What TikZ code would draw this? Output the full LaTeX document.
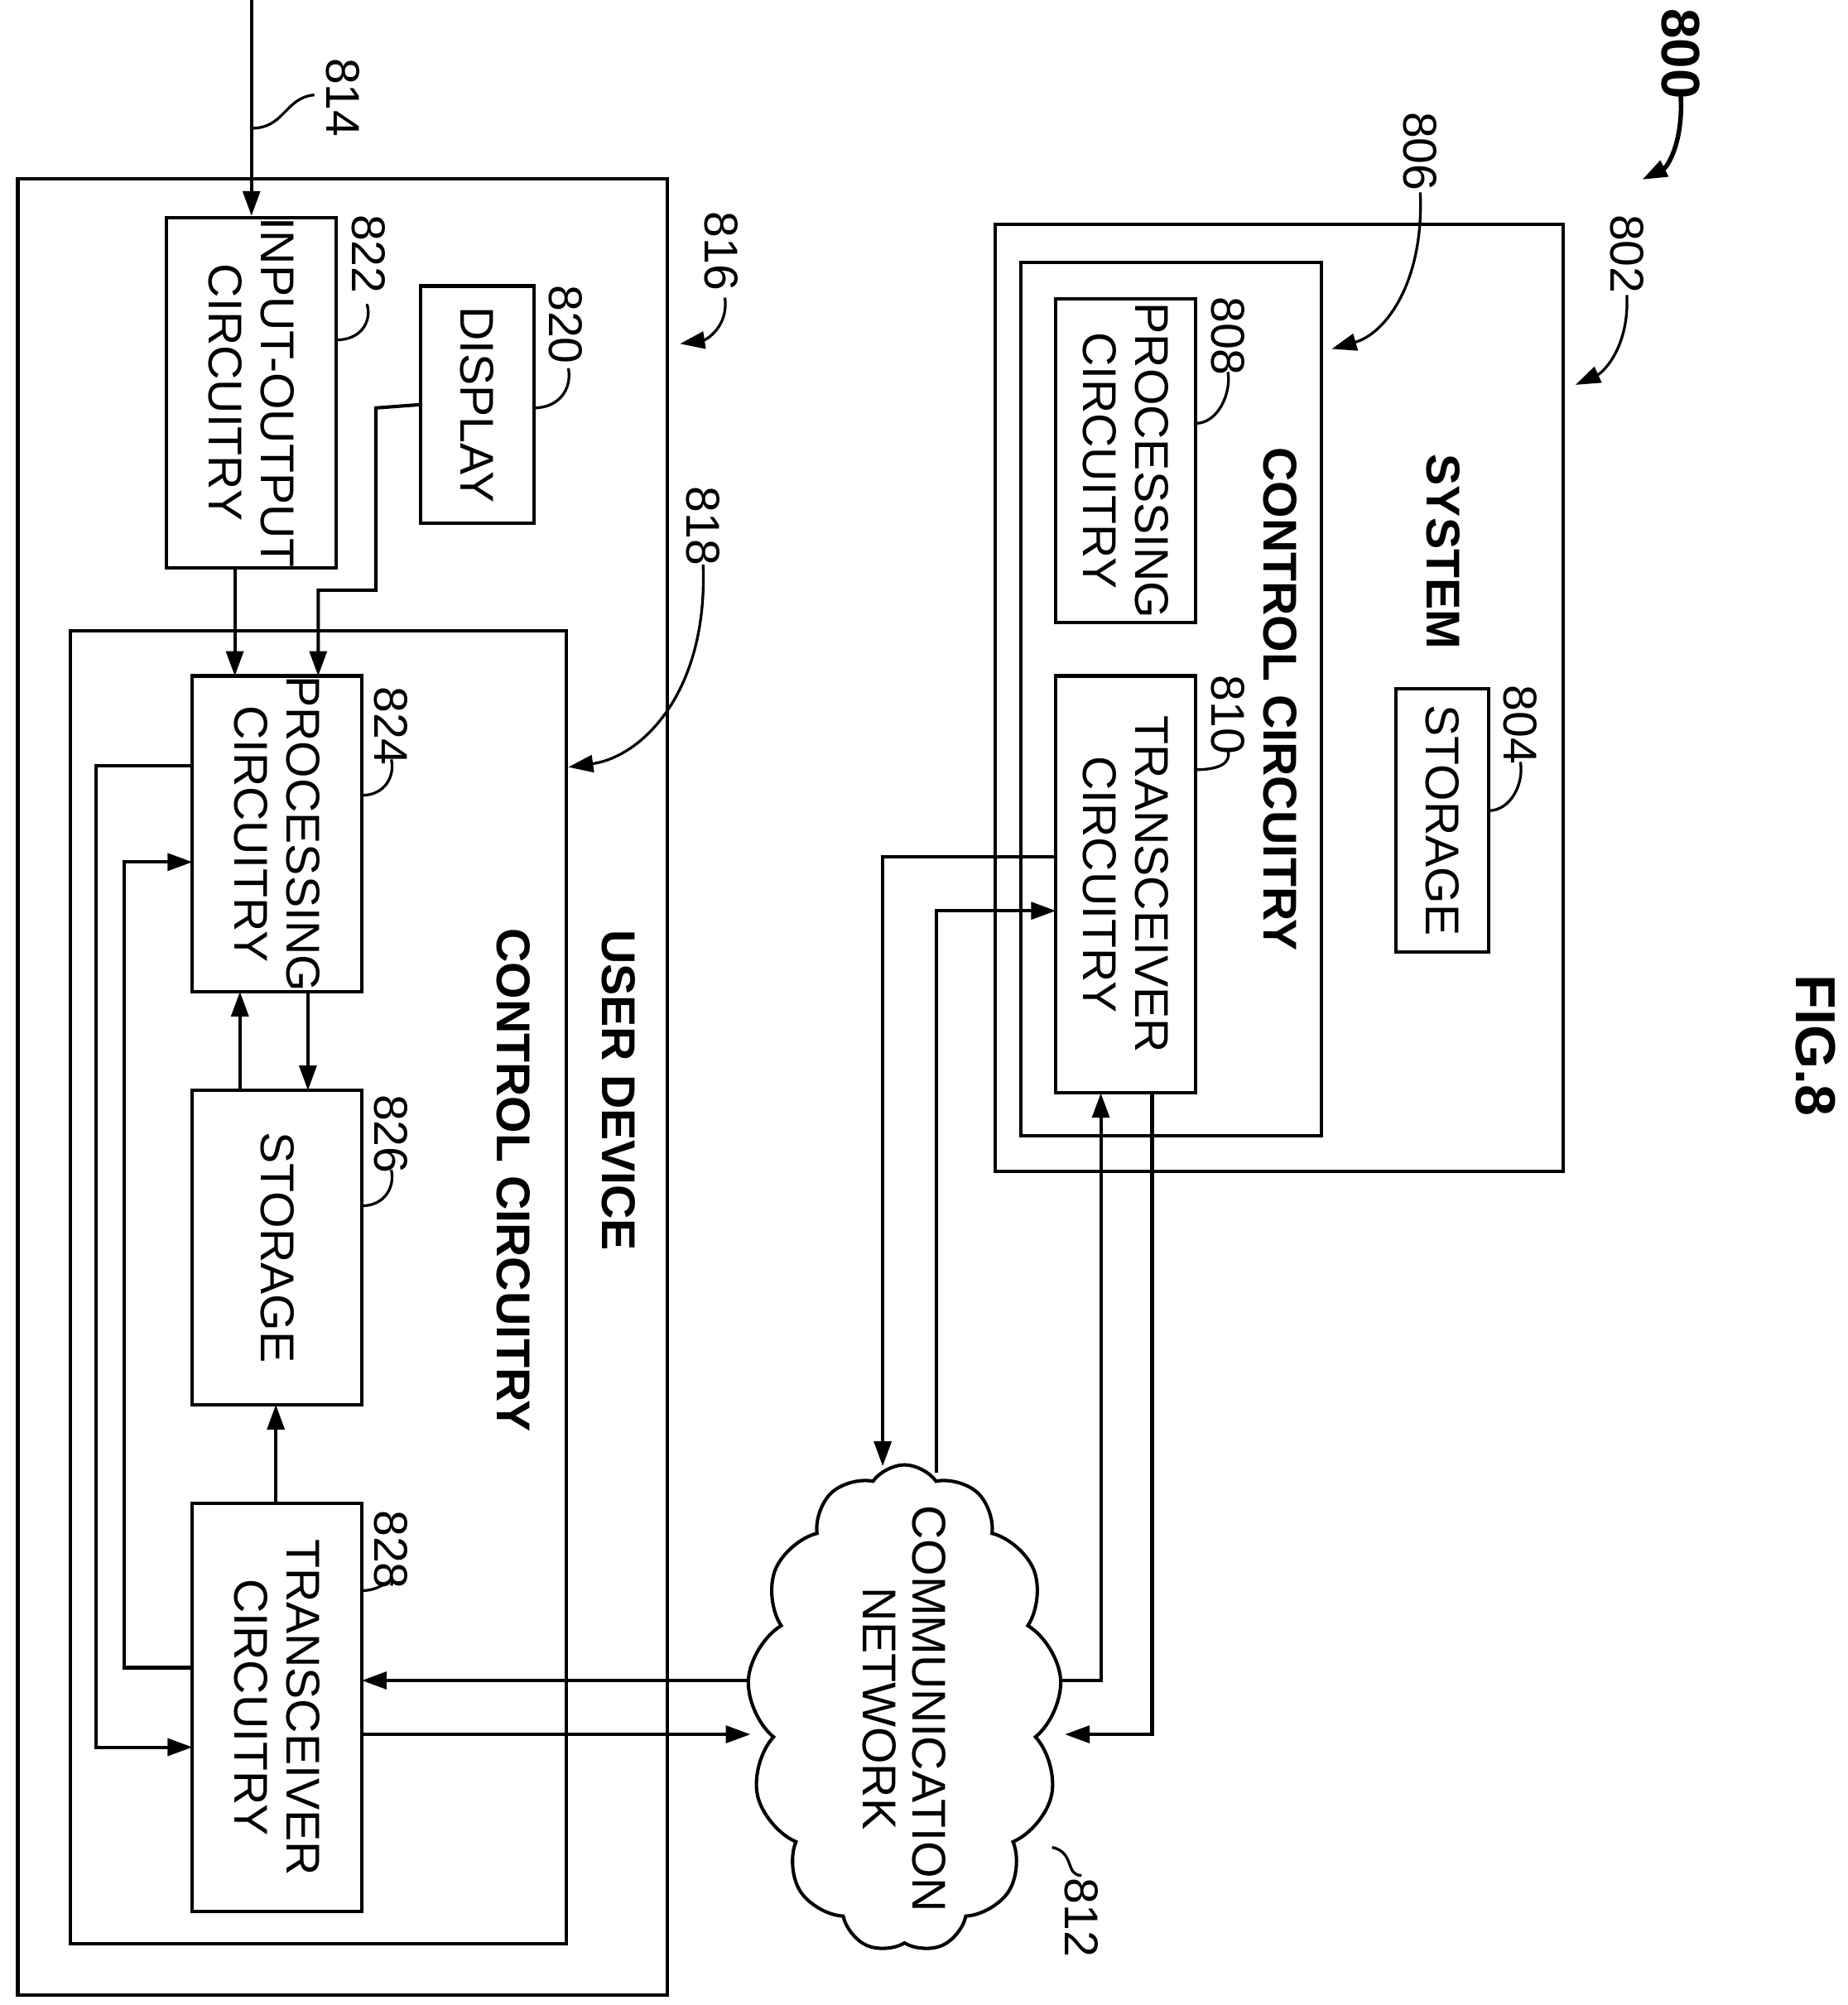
\documentclass[tikz,border=0pt]{standalone}
\usepackage{fontspec}
\setmainfont{Liberation Sans}
\usetikzlibrary{arrows.meta,shapes.symbols}
\begin{document}
\begin{tikzpicture}[x=0.01cm,y=-0.01cm,line width=0.75pt,
 box/.style={draw,rectangle,rotate=-90,align=center,inner sep=0pt,font=\fontsize{10.5}{11.5}\selectfont},
 lbl/.style={rotate=-90,font=\fontsize{10.5}{11}\selectfont,inner sep=0pt},
 ttl/.style={rotate=-90,font=\bfseries\fontsize{10.5}{11}\selectfont,inner sep=0pt},
 arr/.style={-{Triangle[length=5.5pt,width=3.8pt]}},
 lead/.style={line width=0.6pt}]
\useasboundingbox (0,0) rectangle (1440,1563);
% user device
\node[box,minimum width=14.15cm,minimum height=5.06cm] (ud) at (267,847.5) {};
\node[box,minimum width=10.23cm,minimum height=3.86cm] (ucc) at (248,1003.5) {};
\node[box,minimum width=2.72cm,minimum height=1.32cm] (io) at (196,306) {INPUT-OUTPUT\\CIRCUITRY};
\node[box,minimum width=1.85cm,minimum height=0.88cm] (disp) at (372,315.5) {DISPLAY};
\node[box,minimum width=2.46cm,minimum height=1.32cm] (p824) at (216,650) {PROCESSING\\CIRCUITRY};
\node[box,minimum width=2.45cm,minimum height=1.32cm] (s826) at (216,972.5) {STORAGE};
\node[box,minimum width=3.18cm,minimum height=1.32cm] (t828) at (216,1331) {TRANSCEIVER\\CIRCUITRY};
\node[ttl] (tud) at (482,850) {USER DEVICE};
\node[ttl] (tucc) at (400,920) {CONTROL CIRCUITRY};
% system
\node[box,minimum width=7.38cm,minimum height=4.42cm] (sys) at (997,544) {};
\node[box,minimum width=6.80cm,minimum height=2.34cm] (scc) at (913,545) {};
\node[box,minimum width=2.52cm,minimum height=1.09cm] (p808) at (877.5,359) {PROCESSING\\CIRCUITRY};
\node[box,minimum width=3.25cm,minimum height=1.09cm] (t810) at (877.5,689.5) {TRANSCEIVER\\CIRCUITRY};
\node[box,minimum width=2.05cm,minimum height=0.72cm] (s804) at (1124,639.5) {STORAGE};
\node[ttl] (tsys) at (1125,430) {SYSTEM};
\node[ttl] (tscc) at (998,545) {CONTROL CIRCUITRY};
\node[ttl,font=\bfseries\fontsize{12.5}{13}\selectfont] (fig) at (1415,815) {FIG.8};
% cloud
\node[draw,cloud,cloud puffs=13,cloud puff arc=110,aspect=0.65,minimum width=2.45cm,minimum height=3.8cm,inner sep=0pt] (net) at (705,1332) {};
\node[lbl,align=center] (tnet) at (705,1332) {COMMUNICATION\\NETWORK};
% labels
\node[lbl] (l814) at (267,76) {814};
\node[lbl] (l822) at (287,198) {822};
\node[lbl] (l820) at (441,253) {820};
\node[lbl] (l816) at (562,196) {816};
\node[lbl] (l818) at (548,410) {818};
\node[lbl] (l824) at (305,566) {824};
\node[lbl] (l826) at (305,884) {826};
\node[lbl] (l828) at (305,1208) {828};
\node[lbl] (l812) at (843,1495) {812};
\node[lbl] (l808) at (957,262) {808};
\node[lbl] (l810) at (957,557) {810};
\node[lbl] (l804) at (1185,565) {804};
\node[lbl] (l806) at (1107,118) {806};
\node[lbl] (l802) at (1268,198) {802};
\node[ttl,font=\bfseries\fontsize{12}{13}\selectfont] (l800) at (1310,42) {800};
% leaders
\draw[lead] (196,100) .. controls (222,100) and (222,76) .. (245,74);
\draw[lead] (262,265) .. controls (282,265) and (290,250) .. (286,237);
\draw[lead] (416,318) .. controls (436,318) and (446,303) .. (443,287);
\draw[lead] (282,620) .. controls (300,620) and (308,605) .. (305,592);
\draw[lead] (282,940) .. controls (300,940) and (308,925) .. (305,912);
\draw[lead] (282,1240) .. controls (300,1240) and (308,1225) .. (305,1236);
\draw[lead] (820,1440) .. controls (838,1444) and (830,1462) .. (843,1462);
\draw[lead] (932,330) .. controls (950,330) and (960,305) .. (957,290);
\draw[lead] (932,600) .. controls (950,600) and (960,595) .. (957,585);
\draw[lead] (1160,632) .. controls (1178,632) and (1188,610) .. (1185,594);
\draw[lead,arr] (565,232) .. controls (568,255) and (550,265) .. (530,268);
\draw[lead,arr] (548,440) .. controls (552,540) and (500,590) .. (443,598);
\draw[lead,arr] (1107,150) .. controls (1110,220) and (1080,260) .. (1038,272);
\draw[lead,arr] (1268,230) .. controls (1270,270) and (1250,290) .. (1228,300);
\draw[lead,arr,line width=1pt] (1310,75) .. controls (1312,110) and (1300,130) .. (1280,140);
% connectors
\draw[arr] (196,0) -- (io.west);
\draw[arr] (183,442) -- (183,527);
\draw[arr] (disp.south) -- (293,318) -- (293,460) -- (248,460) -- (248,527);
\draw[arr] (187,850) -- (187,773);
\draw[arr] (240,773) -- (240,850);
\draw[arr] (215,1172) -- (215,1095);
\draw[arr] (150,597) -- (75,597) -- (75,1362) -- (150,1362);
\draw[arr] (150,1300) -- (97,1300) -- (97,672) -- (150,672);
\draw[arr] (582,1310) -- (282,1310);
\draw[arr] (282,1352) -- (585,1352);
\draw[arr] (823,668) -- (688,668) -- (688,1143);
\draw[arr] (730,1148) -- (730,710) -- (823,710);
\draw[arr] (828,1310) -- (858,1310) -- (858,852);
\draw[arr] (898,852) -- (898,1352) -- (830,1352);
\end{tikzpicture}
\end{document}
